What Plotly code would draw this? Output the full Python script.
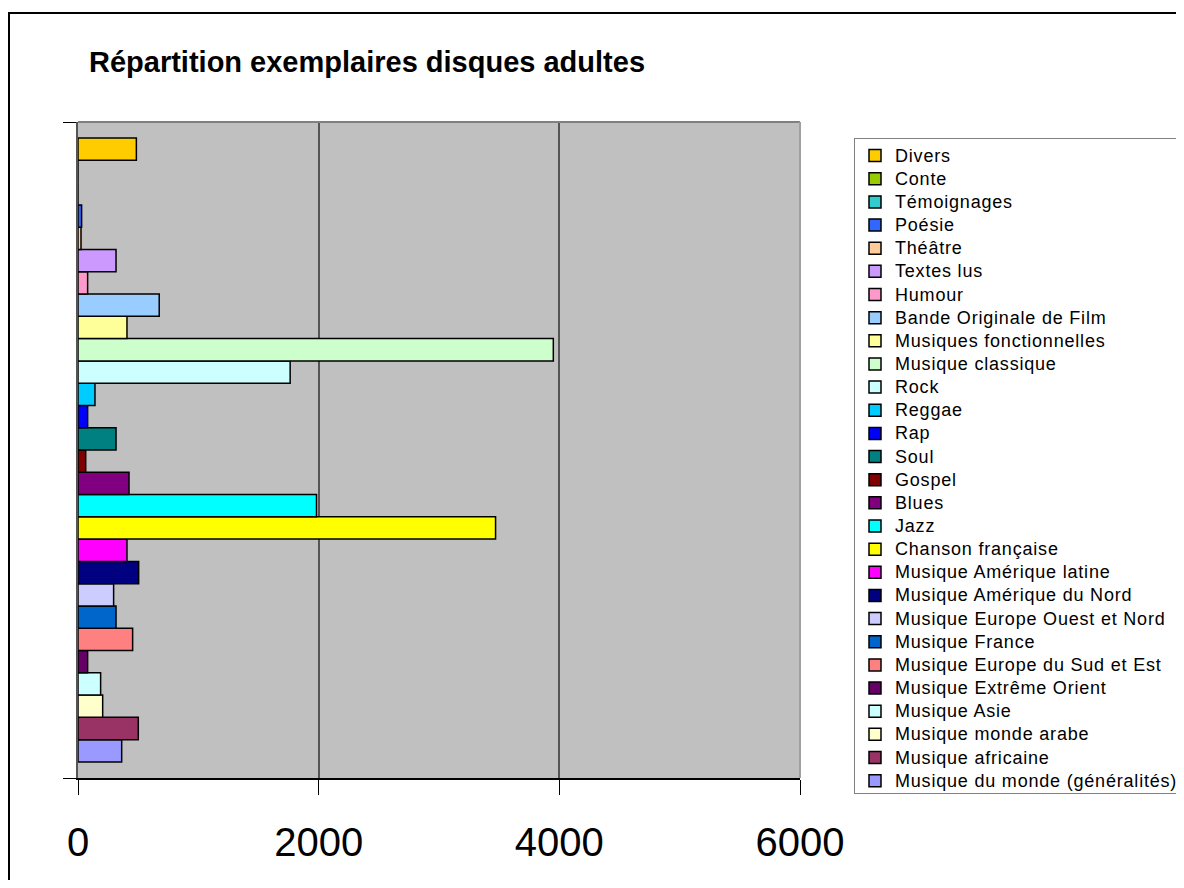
import plotly.graph_objects as go

# Legend order (top to bottom, as in the reference)
genres = ["Divers", "Conte", "Témoignages", "Poésie", "Théâtre", "Textes lus", "Humour",
          "Bande Originale de Film", "Musiques fonctionnelles", "Musique classique", "Rock",
          "Reggae", "Rap", "Soul", "Gospel", "Blues", "Jazz", "Chanson française",
          "Musique Amérique latine", "Musique Amérique du Nord", "Musique Europe Ouest et Nord",
          "Musique France", "Musique Europe du Sud et Est", "Musique Extrême Orient",
          "Musique Asie", "Musique monde arabe", "Musique africaine",
          "Musique du monde (généralités)"]
exemplaires = [485, 0, 0, 30, 25, 316, 80, 675, 407, 3950, 1763, 141, 80, 316, 64, 424,
               1982, 3470, 407, 504, 296, 316, 454, 80, 188, 205, 501, 363]
couleurs = ["#FFCC00", "#99CC00", "#33CCCC", "#3366FF", "#FFCC99", "#CC99FF", "#FF99CC",
            "#99CCFF", "#FFFF99", "#CCFFCC", "#CCFFFF", "#00CCFF", "#0000FF", "#008080",
            "#800000", "#800080", "#00FFFF", "#FFFF00", "#FF00FF", "#000080", "#CCCCFF",
            "#0066CC", "#FF8080", "#660066", "#CCFFFF", "#FFFFCC", "#993366", "#9999FF"]
categorie = ["Disques adultes"]
x_ticks = [0, 2000, 4000, 6000]
titre = "Répartition exemplaires disques adultes"

FONT = "Arial, 'Liberation Sans', sans-serif"

W, H = 1168, 872
L, R, T, B = 70, 376, 114, 102
pw, ph = W - L - R, H - T - B

fig = go.Figure()
# bottom bar first -> reversed order
for name, val, col in zip(genres[::-1], exemplaires[::-1], couleurs[::-1]):
    fig.add_trace(go.Bar(
        x=[val], y=categorie, orientation="h",
        name='<span style="font-size:18px;letter-spacing:0.8px">' + name + '</span>',
        marker=dict(color=col, line=dict(color="black", width=1.5)),
    ))

def px_x(p):
    return (p - L) / pw

def px_y(p):
    return (H - B - p) / ph

fig.update_layout(
    width=W, height=H,
    margin=dict(l=L, r=R, t=T, b=B, autoexpand=False),
    paper_bgcolor="white",
    plot_bgcolor="#C0C0C0",
    barmode="group",
    bargap=0.049,
    bargroupgap=0,
    font=dict(family=FONT, color="black"),
    showlegend=True,
    legend=dict(
        traceorder="reversed",
        x=px_x(846), y=px_y(130), xanchor="left", yanchor="top",
        xref="paper", yref="paper",
        bgcolor="white", bordercolor="#808080", borderwidth=1,
        font=dict(family=FONT, size=15.5, color="black"),
        itemwidth=30,
        tracegroupgap=0,
    ),
    xaxis=dict(
        range=[0, 6000],
        tickvals=x_ticks,
        ticktext=[str(v) for v in x_ticks],
        ticks="outside", ticklen=15, tickcolor="black", tickwidth=1,
        ticklabelstandoff=13,
        showline=True, linecolor="black", linewidth=1.5,
        showgrid=True, gridcolor="#555555", gridwidth=1.5,
        zeroline=False,
        tickfont=dict(family=FONT, size=40, color="black"),
        fixedrange=True,
    ),
    yaxis=dict(
        type="category",
        showticklabels=False,
        ticks="outside", ticklen=13, tickcolor="black", tickwidth=1,
        tickson="boundaries",
        showline=True, linecolor="#555555", linewidth=1.5,
        showgrid=False, zeroline=False,
        fixedrange=True,
    ),
    shapes=[
        # outer chart border (only left & top visible)
        dict(type="line", xref="paper", yref="paper",
             x0=px_x(1), x1=px_x(1), y0=px_y(H), y1=px_y(5),
             line=dict(color="black", width=2), layer="above"),
        dict(type="line", xref="paper", yref="paper",
             x0=px_x(0), x1=px_x(W), y0=px_y(5), y1=px_y(5),
             line=dict(color="black", width=2), layer="above"),
        # plot area border top / right
        dict(type="line", xref="paper", yref="paper", x0=0, x1=1, y0=1, y1=1,
             line=dict(color="#808080", width=2), layer="above"),
        dict(type="line", xref="paper", yref="paper", x0=1, x1=1, y0=0, y1=1,
             line=dict(color="#A0A0A0", width=2), layer="above"),
    ],
    annotations=[
        dict(text="<b>" + titre + "</b>", xref="paper", yref="paper",
             x=px_x(79), y=px_y(54), xanchor="left", yanchor="middle",
             showarrow=False, font=dict(family=FONT, size=29, color="black")),
    ],
)

fig.write_html("out.html")
